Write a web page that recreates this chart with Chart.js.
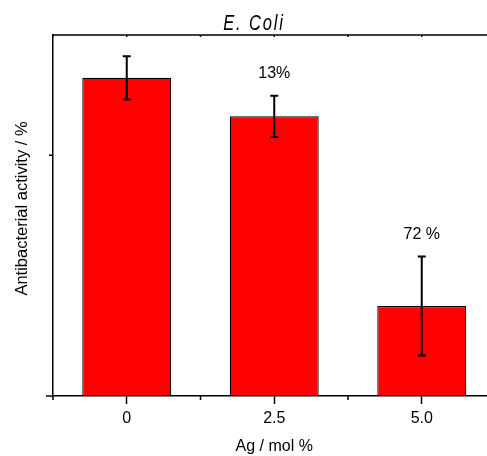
<!DOCTYPE html>
<html><head><meta charset="utf-8">
<script src="https://cdn.jsdelivr.net/npm/chart.js@4"></script>
<style>html,body{margin:0;padding:0;overflow:hidden;background:#fff}#wrap{width:506px;height:456px}</style>
</head><body><div id="wrap"><canvas id="c" width="506" height="456"></canvas></div>
<script>
const categories = ['0', '2.5', '5.0'];
const activity = [66.1, 58.1, 18.7];
const errors = [4.5, 4.3, 10.3];
const barLabels = ['', '13%', '72 %'];
const yMajorTicks = [0];
const yMinorTicks = [50];
const chartTitle = 'E. Coli';
const xTitle = 'Ag / mol %';
const yTitle = 'Antibacterial activity / %';

const FONT = '"Liberation Sans", Arial, sans-serif';

const extras = {
  id: 'extras',
  afterDraw(chart) {
    const ctx = chart.ctx;
    const x = chart.scales.x, y = chart.scales.y;
    const a = chart.chartArea;
    const meta = chart.getDatasetMeta(0);
    ctx.save();
    ctx.strokeStyle = '#000';
    ctx.fillStyle = '#000';
    // error bars
    ctx.lineWidth = 2;
    meta.data.forEach((bar, i) => {
      const yt = y.getPixelForValue(activity[i] + errors[i]);
      const yb = y.getPixelForValue(activity[i] - errors[i]);
      ctx.beginPath();
      ctx.moveTo(bar.x, yt); ctx.lineTo(bar.x, yb);
      ctx.moveTo(bar.x - 4, yt); ctx.lineTo(bar.x + 4, yt);
      ctx.moveTo(bar.x - 4, yb); ctx.lineTo(bar.x + 4, yb);
      ctx.stroke();
      if (barLabels[i]) {
        ctx.font = '16px ' + FONT;
        ctx.textAlign = 'center';
        ctx.textBaseline = 'middle';
        ctx.fillText(barLabels[i], bar.x, yt - 22);
      }
    });
    // minor x ticks at category boundaries
    ctx.lineWidth = 1.5;
    const centers = categories.map((c, i) => x.getPixelForValue(i));
    const step = centers[1] - centers[0];
    const bounds = [centers[0] - step / 2];
    for (let i = 0; i < centers.length; i++) bounds.push(centers[i] + step / 2);
    ctx.beginPath();
    bounds.forEach(b => { ctx.moveTo(b, a.bottom); ctx.lineTo(b, a.bottom + 4); });
    // y ticks
    yMajorTicks.forEach(v => { const p = y.getPixelForValue(v); ctx.moveTo(a.left, p); ctx.lineTo(a.left - 7, p); });
    yMinorTicks.forEach(v => { const p = y.getPixelForValue(v); ctx.moveTo(a.left, p); ctx.lineTo(a.left - 4, p); });
    // top border and inward ticks
    ctx.moveTo(a.left, a.top); ctx.lineTo(chart.width, a.top);
    centers.concat(bounds).forEach(p => { ctx.moveTo(p, a.top); ctx.lineTo(p, a.top + 2); });
    ctx.stroke();
    // title (condensed italic)
    ctx.save();
    ctx.font = 'italic 22px "Liberation Sans", Arial, sans-serif';
    try { ctx.letterSpacing = '2.5px'; } catch (e) {}
    ctx.textAlign = 'center';
    ctx.textBaseline = 'middle';
    ctx.translate(chart.width / 2 + 1, 24);
    ctx.scale(0.75, 1);
    ctx.fillText(chartTitle, 0, 0);
    ctx.restore();
    // x title
    ctx.font = '16px ' + FONT;
    ctx.textAlign = 'center';
    ctx.textBaseline = 'middle';
    ctx.fillText(xTitle, (a.left + a.right) / 2, 447);
    // y title
    ctx.font = '16.5px ' + FONT;
    ctx.translate(22, (a.top + a.bottom) / 2 - 7);
    ctx.rotate(-Math.PI / 2);
    ctx.fillText(yTitle, 0, 0);
    ctx.restore();
  }
};

new Chart(document.getElementById('c'), {
  type: 'bar',
  data: {
    labels: categories,
    datasets: [{
      data: activity,
      backgroundColor: '#ff0000',
      borderColor: '#000000',
      borderWidth: 1.2,
      barPercentage: 0.603,
      categoryPercentage: 1
    }]
  },
  options: {
    responsive: false,
    animation: false,
    devicePixelRatio: 1,
    layout: { padding: { left: 0, top: 35, right: 10.5, bottom: 0 } },
    plugins: { legend: { display: false }, tooltip: { enabled: false }, title: { display: false } },
    scales: {
      x: {
        afterFit(s) { s.height = 60; },
        grid: { display: true, drawOnChartArea: false, offset: false, tickLength: 8, tickColor: '#000', tickWidth: 1.5 },
        border: { display: true, color: '#000', width: 1.5 },
        ticks: { color: '#000', font: { family: FONT, size: 16 }, padding: 5, maxRotation: 0 }
      },
      y: {
        min: 0, max: 75,
        afterFit(s) { s.width = 53; },
        grid: { display: true, drawOnChartArea: false, drawTicks: false },
        border: { display: true, color: '#000', width: 1.5 },
        ticks: { display: false }
      }
    }
  },
  plugins: [extras]
});
</script>
</body></html>
